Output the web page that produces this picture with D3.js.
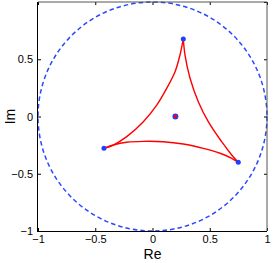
<!DOCTYPE html>
<html>
<head>
<meta charset="utf-8">
<style>
body { margin: 0; background: #fff; }
text { font-family: "Liberation Sans", Arial, sans-serif; }
.axis .domain { display: none; }
.axis text { font-size: 11px; fill: #000; }
</style>
</head>
<body>
<svg id="chart" width="273" height="263"></svg>
<script src="https://d3js.org/d3.v7.min.js"></script>
<script>

// curve sides, [Re, Im]
var sideLeft = [[0.269, 0.677], [0.240, 0.537], [0.197, 0.391], [0.124, 0.246], [0.037, 0.100],
                [-0.080, -0.045], [-0.225, -0.176], [-0.342, -0.249], [-0.424, -0.278]];
var sideRight = [[0.269, 0.677], [0.284, 0.537], [0.328, 0.334], [0.400, 0.129], [0.487, -0.045],
                 [0.604, -0.220], [0.692, -0.336], [0.749, -0.400]];
var sideBottom = [[-0.424, -0.278], [-0.342, -0.249], [-0.225, -0.225], [-0.080, -0.217], [0.094, -0.220],
                  [0.269, -0.240], [0.444, -0.278], [0.590, -0.321], [0.692, -0.365], [0.749, -0.400]];
var vertices = [[0.269, 0.677], [-0.424, -0.278], [0.749, -0.400]];
var centre = [0.2, 0.0];

var xTicks = [-1, -0.5, 0, 0.5, 1];
var yTicks = [-1, -0.5, 0, 0.5];

var svg = d3.select("#chart"),
    margin = {top: 2, right: 6, bottom: 32, left: 38},
    width = +svg.attr("width") - margin.left - margin.right,
    height = +svg.attr("height") - margin.top - margin.bottom;

var x = d3.scaleLinear().domain([-1, 1]).range([margin.left, margin.left + width]);
var y = d3.scaleLinear().domain([-1, 1]).range([margin.top + height, margin.top]);

var fmt = function(d) { return d3.format("")(d); };

// unit circle
svg.append("circle")
    .attr("cx", x(0))
    .attr("cy", y(0))
    .attr("r", x(1) - x(0))
    .attr("fill", "none")
    .attr("stroke", "#2a48ff")
    .attr("stroke-width", 1.5)
    .attr("stroke-dasharray", "4.5,3");

var line = d3.line()
    .x(function(d) { return x(d[0]); })
    .y(function(d) { return y(d[1]); })
    .curve(d3.curveCatmullRom);

[sideLeft, sideRight, sideBottom].forEach(function(s) {
  svg.append("path")
      .datum(s)
      .attr("d", line)
      .attr("fill", "none")
      .attr("stroke", "#ff0000")
      .attr("stroke-width", 1.4);
});

svg.selectAll(".vtx")
    .data(vertices)
    .enter().append("circle")
    .attr("class", "vtx")
    .attr("cx", function(d) { return x(d[0]); })
    .attr("cy", function(d) { return y(d[1]); })
    .attr("r", 2.5)
    .attr("fill", "#1f3fff");

svg.append("circle")
    .attr("cx", x(centre[0]))
    .attr("cy", y(centre[1]))
    .attr("r", 2.4)
    .attr("fill", "#ff0000")
    .attr("stroke", "#2040ff")
    .attr("stroke-width", 1.2);

// axes, ticks inward
svg.append("g")
    .attr("class", "axis")
    .attr("transform", "translate(0," + (margin.top + height) + ")")
    .call(d3.axisBottom(x).tickValues(xTicks).tickSize(-3).tickPadding(4).tickFormat(fmt));

svg.append("g")
    .attr("class", "axis")
    .attr("transform", "translate(" + margin.left + ",0)")
    .call(d3.axisLeft(y).tickValues(yTicks).tickSize(-3).tickPadding(5).tickFormat(fmt));

svg.append("g")
    .attr("class", "axis")
    .attr("transform", "translate(0," + margin.top + ")")
    .call(d3.axisTop(x).tickValues(xTicks).tickSize(-3).tickFormat(""));

svg.append("g")
    .attr("class", "axis")
    .attr("transform", "translate(" + (margin.left + width) + ",0)")
    .call(d3.axisRight(y).tickValues(yTicks.concat([1])).tickSize(-3).tickFormat(""));

// box
svg.append("line")
    .attr("x1", x(-1)).attr("x2", x(1)).attr("y1", y(-1) + 0.5).attr("y2", y(-1) + 0.5)
    .attr("stroke", "#000");
svg.append("line")
    .attr("x1", x(-1) - 0.5).attr("x2", x(-1) - 0.5).attr("y1", y(1)).attr("y2", y(-1) + 1)
    .attr("stroke", "#000");
svg.append("line")
    .attr("x1", x(-1)).attr("x2", x(1)).attr("y1", y(1)).attr("y2", y(1))
    .attr("stroke", "#555");
svg.append("line")
    .attr("x1", x(1)).attr("x2", x(1)).attr("y1", y(1)).attr("y2", y(-1))
    .attr("stroke", "#555");

svg.append("text")
    .attr("x", x(0))
    .attr("y", 259)
    .attr("text-anchor", "middle")
    .attr("font-size", 14)
    .text("Re");

svg.append("text")
    .attr("transform", "translate(15," + y(0) + ") rotate(-90)")
    .attr("text-anchor", "middle")
    .attr("font-size", 14)
    .text("Im");

</script>
</body>
</html>
